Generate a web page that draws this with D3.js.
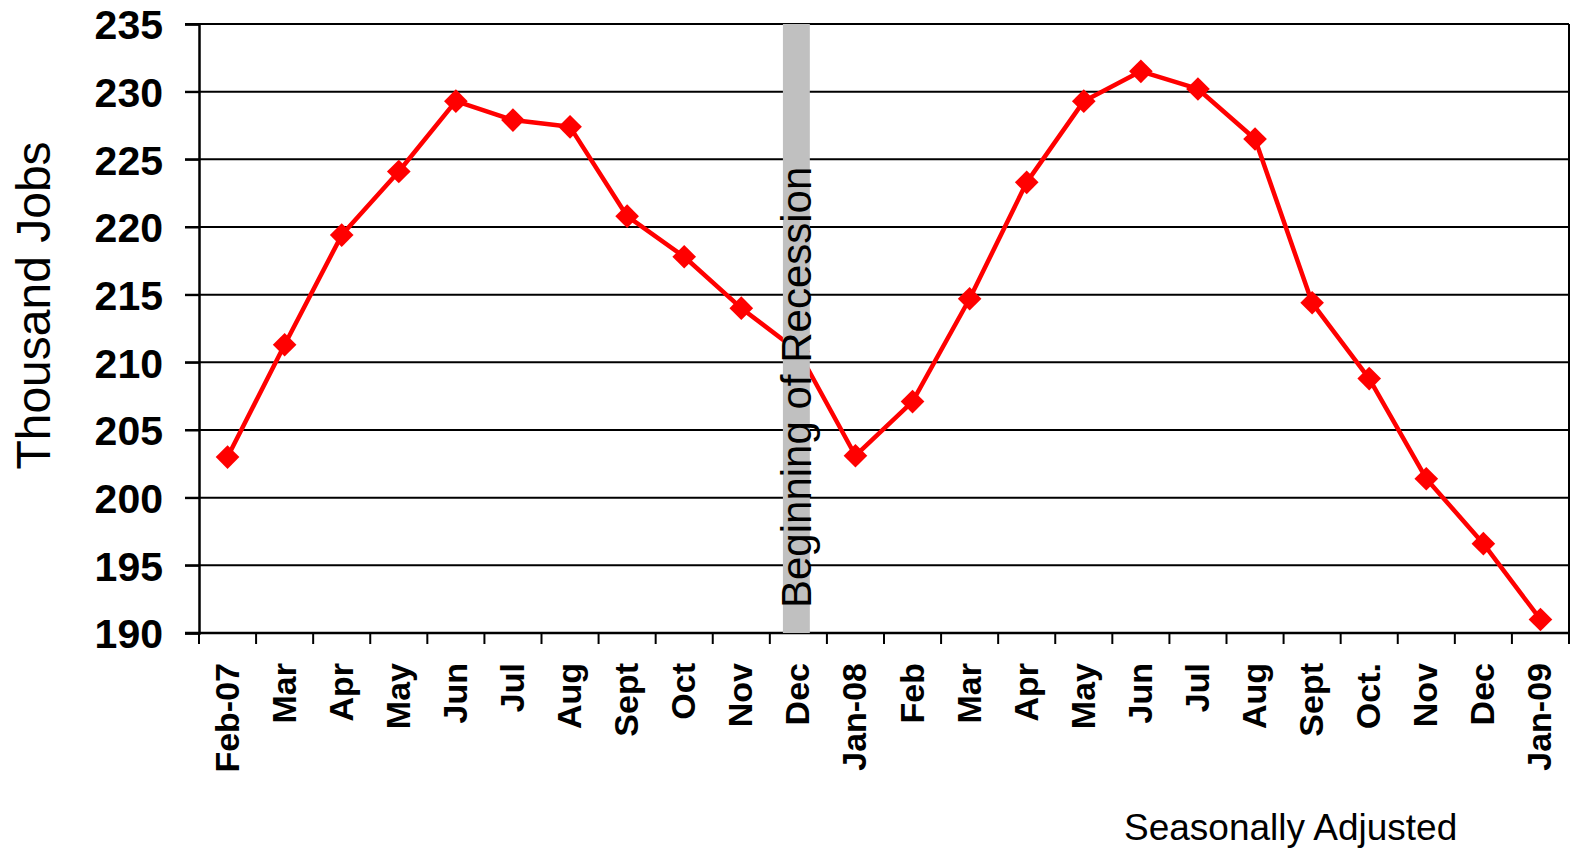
<!DOCTYPE html>
<html>
<head>
<meta charset="utf-8">
<script src="https://cdn.jsdelivr.net/npm/d3@7"></script>
<style>
  body { margin: 0; background: #fff; }
  svg { display: block; font-family: Arial, "Liberation Sans", sans-serif; }
</style>
</head>
<body>
<div class="canvas"></div>
<script>
const months = ["Feb-07", "Mar", "Apr", "May", "Jun", "Jul", "Aug", "Sept", "Oct", "Nov", "Dec",
  "Jan-08", "Feb", "Mar ", "Apr ", "May ", "Jun ", "Jul ", "Aug ", "Sept ", "Oct.", "Nov ", "Dec ", "Jan-09"];
const jobs = [203.0, 211.3, 219.4, 224.1, 229.3, 227.9, 227.4, 220.8, 217.8, 214.0, 210.8,
  203.1, 207.1, 214.7, 223.3, 229.3, 231.5, 230.2, 226.5, 214.4, 208.8, 201.4, 196.6, 191.0];
const yTicks = [190, 195, 200, 205, 210, 215, 220, 225, 230, 235];
const recessionMonth = "Dec";

const dims = { width: 1575, height: 849 };
const margin = { top: 24, right: 6, bottom: 216, left: 199 };
const inner = {
  width: dims.width - margin.left - margin.right,
  height: dims.height - margin.top - margin.bottom
};

const svg = d3.select(".canvas")
  .append("svg")
  .attr("width", dims.width)
  .attr("height", dims.height);

const graph = svg.append("g")
  .attr("transform", `translate(${margin.left}, ${margin.top})`);

const x = d3.scaleBand().domain(months).range([0, inner.width]);
const y = d3.scaleLinear().domain([190, 235]).range([inner.height, 0]);

// gridlines
graph.append("g")
  .selectAll("line")
  .data(yTicks)
  .join("line")
  .attr("x1", -14)
  .attr("x2", inner.width)
  .attr("y1", d => y(d))
  .attr("y2", d => y(d))
  .attr("stroke", "#000")
  .attr("stroke-width", 2);

// right border
graph.append("line")
  .attr("x1", inner.width).attr("x2", inner.width)
  .attr("y1", 0).attr("y2", inner.height)
  .attr("stroke", "#000").attr("stroke-width", 2);

// y axis
const yAxis = graph.append("g")
  .call(d3.axisLeft(y).tickValues(yTicks).tickSize(14).tickPadding(22));
yAxis.select(".domain").attr("stroke-width", 2.5);
yAxis.selectAll(".tick line").attr("stroke-width", 2);
yAxis.selectAll("text")
  .attr("font-size", 41)
  .attr("font-weight", "bold")
  .attr("fill", "#000")
  .attr("dy", "0.36em");

// x axis: ticks between categories
const xAxis = graph.append("g")
  .attr("transform", `translate(0, ${inner.height})`);
xAxis.append("line")
  .attr("x1", -14).attr("x2", inner.width)
  .attr("stroke", "#000").attr("stroke-width", 2.5);
xAxis.selectAll(".tk")
  .data(months.concat(["end"]))
  .join("line")
  .attr("class", "tk")
  .attr("x1", (d, i) => i * x.step())
  .attr("x2", (d, i) => i * x.step())
  .attr("y1", 0).attr("y2", 11)
  .attr("stroke", "#000").attr("stroke-width", 2);
xAxis.selectAll("text")
  .data(months)
  .join("text")
  .attr("transform", d => `translate(${x(d) + x.bandwidth() / 2 + 11}, 30) rotate(-90)`)
  .attr("text-anchor", "end")
  .attr("font-size", 34)
  .attr("font-weight", "bold")
  .text(d => d.trim());

// line + markers
const line = d3.line()
  .x((d, i) => x(months[i]) + x.bandwidth() / 2)
  .y(d => y(d));

graph.append("path")
  .datum(jobs)
  .attr("d", line)
  .attr("fill", "none")
  .attr("stroke", "#ff0000")
  .attr("stroke-width", 4.5)
  .attr("stroke-linejoin", "round");

const marker = d3.symbol().type(d3.symbolSquare).size(280);
graph.selectAll(".pt")
  .data(jobs)
  .join("path")
  .attr("class", "pt")
  .attr("d", marker)
  .attr("fill", "#ff0000")
  .attr("transform", (d, i) =>
    `translate(${x(months[i]) + x.bandwidth() / 2}, ${y(d)}) rotate(45)`);

// recession band drawn on top
const band = d3.scaleBand()
  .domain([recessionMonth])
  .range([x(recessionMonth) - 2, x(recessionMonth) + x.bandwidth() - 2])
  .paddingOuter(0.56);
graph.append("rect")
  .attr("x", band(recessionMonth))
  .attr("width", band.bandwidth())
  .attr("y", 0)
  .attr("height", inner.height)
  .attr("fill", "#c0c0c0");

graph.append("text")
  .attr("transform", `translate(${band(recessionMonth) + band.bandwidth() + 1}, ${inner.height - 25}) rotate(-90)`)
  .attr("font-size", 42)
  .attr("fill", "#000")
  .text("Beginning of Recession");

// axis title
svg.append("text")
  .attr("transform", `translate(50, ${margin.top + inner.height / 2 - 23}) rotate(-90)`)
  .attr("text-anchor", "middle")
  .attr("font-size", 48)
  .text("Thousand Jobs");

svg.append("text")
  .attr("x", 1124)
  .attr("y", 840)
  .attr("font-size", 37)
  .text("Seasonally Adjusted");
</script>
</body>
</html>
